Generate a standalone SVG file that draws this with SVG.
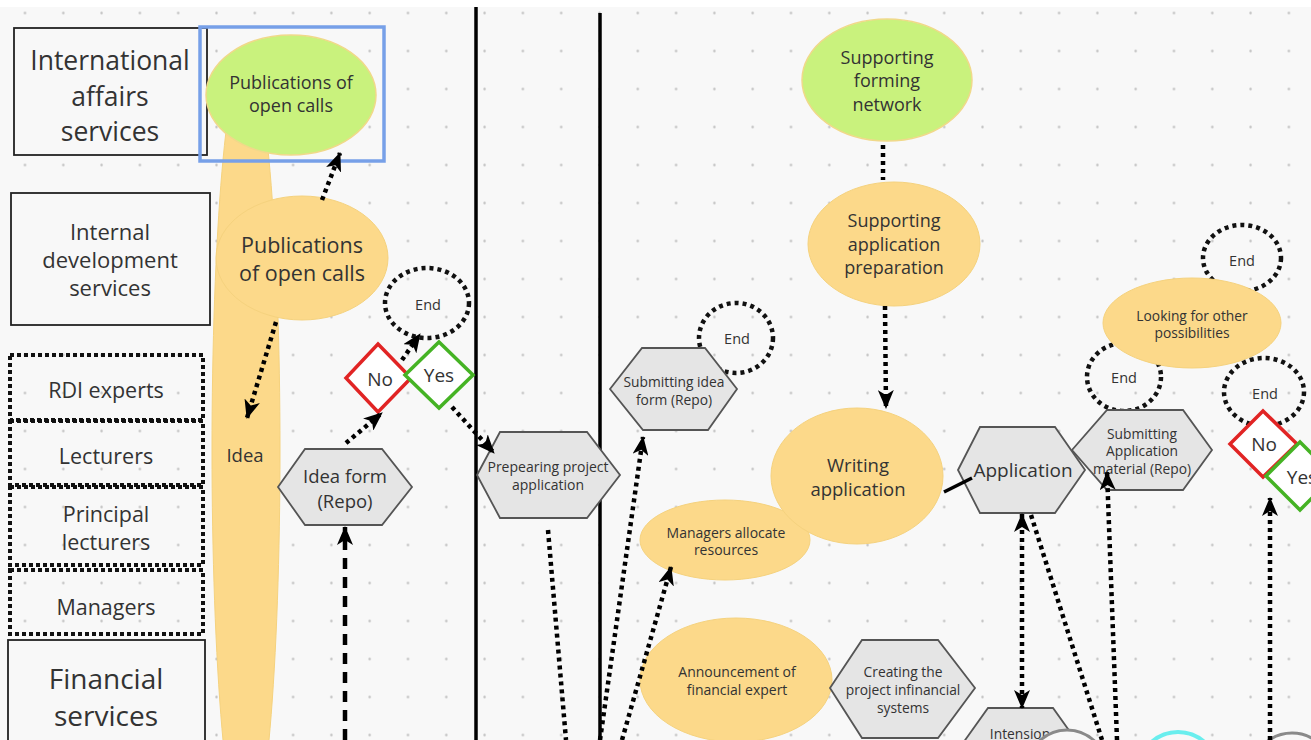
<svg xmlns="http://www.w3.org/2000/svg" width="1311" height="740" viewBox="0 0 1311 740">
<defs>
<pattern id="dots" x="23.5" y="11.5" width="38.3" height="38" patternUnits="userSpaceOnUse"><circle cx="1.5" cy="1.5" r="1.2" fill="#bdbdbd"/></pattern>
<marker id="ah" markerUnits="userSpaceOnUse" markerWidth="20" markerHeight="16" refX="18" refY="8" orient="auto-start-reverse"><path d="M0,0 L19,8 L0,16 L5,8 Z" fill="#000"/></marker>
</defs>
<style>
text{font-family:"Open Sans",Lato,"Liberation Sans",sans-serif;fill:#333;text-anchor:middle;dominant-baseline:central}
.s{font-size:13.8px}
.lane{fill:#f8f8f8;stroke:#222;stroke-width:1.8}
.dlane{fill:none;stroke:#111;stroke-width:4;stroke-dasharray:4 3}
.yel{fill:#fcd98a;stroke:#f5d27e;stroke-width:1}
.grn{fill:#c9f27d;stroke:#f0d98a;stroke-width:1.5}
.hex{fill:#e5e5e5;stroke:#555;stroke-width:1.8}
.end{fill:none;stroke:#111;stroke-width:4.5;stroke-dasharray:4 4}
.no{fill:#fff;stroke:#e12424;stroke-width:3.5}
.yes{fill:#fff;stroke:#45b324;stroke-width:3.5}
.dot{fill:none;stroke:#000;stroke-width:4.5;stroke-dasharray:4 4}
.dash{fill:none;stroke:#000;stroke-width:4.5;stroke-dasharray:11 8}
.arr{marker-end:url(#ah)}
.vline{stroke:#000;stroke-width:3.5}
</style>
<rect x="0" y="0" width="1311" height="740" fill="#ffffff"/>
<rect x="0" y="7" width="1311" height="733" fill="#f8f8f8"/>
<rect x="0" y="7" width="1311" height="733" fill="url(#dots)"/>

<g id="dividers">
<line class="vline" x1="476" y1="7" x2="476" y2="740"/>
<line class="vline" x1="600" y1="13" x2="600" y2="740"/>
</g>

<g id="idea">
<ellipse class="yel" cx="246" cy="450" rx="34" ry="394"/>
<text x="245" y="454" font-size="18.5">Idea</text>
</g>

<g id="lane-international">
<rect class="lane" x="14" y="28" width="193" height="127"/>
<text x="110" y="60" font-size="26.5" fill="#222">International</text>
<text x="110" y="96" font-size="26.5" fill="#222">affairs</text>
<text x="110" y="131" font-size="26.5" fill="#222">services</text>
</g>

<g id="pub-green">
<rect x="200" y="27" width="184" height="134" fill="none" stroke="#77a0e8" stroke-width="3.5"/>
<ellipse class="grn" cx="291" cy="95" rx="85" ry="60"/>
<text x="291" y="82" font-size="18">Publications of</text>
<text x="291" y="105" font-size="18">open calls</text>
</g>

<g id="lane-internal">
<rect class="lane" x="11" y="193" width="199" height="132"/>
<text x="110" y="231" font-size="22">Internal</text>
<text x="110" y="259" font-size="22">development</text>
<text x="110" y="287" font-size="22">services</text>
</g>

<g id="pub-yellow">
<ellipse class="yel" cx="302" cy="258" rx="86" ry="62"/>
<text x="302" y="244" font-size="21.5">Publications</text>
<text x="302" y="272" font-size="21.5">of open calls</text>
</g>

<g id="lane-rdi">
<rect class="dlane" x="10" y="355" width="193" height="65"/>
<text x="106" y="389" font-size="21.5">RDI experts</text>
</g>
<g id="lane-lecturers">
<rect class="dlane" x="10" y="421" width="193" height="64"/>
<text x="106" y="455" font-size="21.5">Lecturers</text>
</g>
<g id="lane-principal">
<rect class="dlane" x="10" y="487" width="193" height="78"/>
<text x="106" y="513" font-size="21.5">Principal</text>
<text x="106" y="541" font-size="21.5">lecturers</text>
</g>
<g id="lane-managers">
<rect class="dlane" x="10" y="570" width="193" height="64"/>
<text x="106" y="606" font-size="21.5">Managers</text>
</g>
<g id="lane-financial">
<rect class="lane" x="8" y="640" width="197" height="110"/>
<text x="106" y="678" font-size="28" fill="#222">Financial</text>
<text x="106" y="715" font-size="28" fill="#222">services</text>
</g>

<g id="end1">
<ellipse class="end" cx="427" cy="303" rx="42" ry="35"/>
<text x="428" y="304" font-size="14.5">End</text>
</g>
<g id="no1">
<path class="no" d="M378,344 L411,378 L378,412 L346,378 Z"/>
<text x="380" y="379" font-size="19">No</text>
</g>
<g id="yes1">
<path class="yes" d="M439,342 L473,375 L439,408 L405,375 Z"/>
<text x="439" y="375" font-size="19">Yes</text>
</g>

<g id="idea-form">
<path class="hex" d="M278,487 L305,449 L382,449 L412,487 L382,525 L305,525 Z"/>
<text x="345" y="475" font-size="18.5">Idea form</text>
<text x="345" y="500" font-size="18.5">(Repo)</text>
</g>

<g id="preparing">
<path class="hex" d="M477,475 L500,432 L587,432 L620,475 L587,518 L500,518 Z"/>
<text x="548" y="466" font-size="14">Prepearing project</text>
<text x="548" y="484" font-size="14">application</text>
</g>

<g id="end2">
<ellipse class="end" cx="736" cy="338" rx="37" ry="35"/>
<text x="737" y="338" font-size="14.5">End</text>
</g>
<g id="submit-idea">
<path class="hex" d="M610,389 L642,348 L705,348 L737,389 L708,430 L643,430 Z"/>
<text class="s" x="674" y="381">Submitting idea</text>
<text class="s" x="674" y="399">form (Repo)</text>
</g>

<g id="managers-allocate">
<ellipse class="yel" cx="725" cy="540" rx="85" ry="40"/>
<text x="726" y="532" font-size="14">Managers allocate</text>
<text x="726" y="549" font-size="14">resources</text>
</g>

<g id="announcement">
<ellipse class="yel" cx="736" cy="680" rx="96" ry="62"/>
<text x="737" y="671" font-size="14">Announcement of</text>
<text x="737" y="689" font-size="14">financial expert</text>
</g>

<g id="writing">
<ellipse class="yel" cx="857" cy="476" rx="86" ry="68"/>
<text x="858" y="464" font-size="18.5">Writing</text>
<text x="858" y="488" font-size="18.5">application</text>
</g>

<g id="supporting-network">
<ellipse class="grn" cx="887" cy="80" rx="85" ry="61"/>
<text x="887" y="57" font-size="18">Supporting</text>
<text x="887" y="80" font-size="18">forming</text>
<text x="887" y="104" font-size="18">network</text>
</g>

<g id="supporting-prep">
<ellipse class="yel" cx="894" cy="244" rx="86" ry="62"/>
<text x="894" y="220" font-size="18">Supporting</text>
<text x="894" y="244" font-size="18">application</text>
<text x="894" y="267" font-size="18">preparation</text>
</g>

<g id="end3">
<ellipse class="end" cx="1124" cy="377" rx="37" ry="34"/>
<text x="1124" y="377" font-size="14.5">End</text>
</g>
<g id="submit-app">
<path class="hex" d="M1072,450 L1107,410 L1183,410 L1212,450 L1183,490 L1107,490 Z"/>
<text class="s" x="1142" y="433">Submitting</text>
<text class="s" x="1142" y="450">Application</text>
<text class="s" x="1142" y="468">material (Repo)</text>
</g>

<g id="application">
<path class="hex" d="M958,470 L980,427 L1055,427 L1085,470 L1055,513 L980,513 Z"/>
<text x="1023" y="470" font-size="19">Application</text>
</g>

<g id="end4">
<ellipse class="end" cx="1242" cy="258" rx="39" ry="33"/>
<text x="1242" y="260" font-size="14.5">End</text>
</g>
<g id="looking">
<ellipse class="yel" cx="1192" cy="323" rx="89" ry="45"/>
<text class="s" x="1192" y="315">Looking for other</text>
<text class="s" x="1192" y="332">possibilities</text>
</g>

<g id="end5">
<ellipse class="end" cx="1264" cy="392" rx="40" ry="34"/>
<text x="1265" y="393" font-size="14.5">End</text>
</g>
<g id="no2">
<path class="no" d="M1263,411 L1297,444 L1263,477 L1230,444 Z"/>
<text x="1264" y="444" font-size="19">No</text>
</g>
<g id="yes2">
<path class="yes" d="M1300,442 L1334,476 L1300,510 L1266,476 Z"/>
<text x="1302" y="477" font-size="19">Yes</text>
</g>

<g id="creating">
<path class="hex" d="M830,688 L862,640 L938,640 L975,688 L938,738 L862,738 Z"/>
<text class="s" x="903" y="671">Creating the</text>
<text class="s" x="903" y="689">project infinancial</text>
<text class="s" x="903" y="707">systems</text>
</g>

<g id="intension">
<path class="hex" d="M958,750 L988,708 L1053,708 L1083,750 Z"/>
<text class="s" x="1020" y="733">Intension</text>
</g>

<g id="circle-gray1">
<circle cx="1067" cy="770" r="40" fill="#f8f8f8" stroke="#8a8a8a" stroke-width="3"/>
</g>
<g id="circle-cyan">
<circle cx="1178" cy="772" r="40" fill="#f8f8f8" stroke="#6aeeee" stroke-width="4"/>
</g>
<g id="circle-gray2">
<circle cx="1292" cy="773" r="40" fill="#f8f8f8" stroke="#8a8a8a" stroke-width="3"/>
</g>

<g id="connectors">
<path class="dot arr" d="M322,200 L340,153"/>
<path class="dot arr" d="M276,322 L247,418"/>
<path class="dot arr" d="M346,443 L382,413"/>
<path class="dot arr" d="M402,360 L420,334"/>
<path class="dot arr" d="M452,407 L494,453"/>
<path class="dash arr" d="M345,740 L345,527"/>
<path class="dot" d="M548,530 L566,740"/>
<path class="dot arr" d="M600,740 L643,437"/>
<path class="dot arr" d="M622,740 L671,567"/>
<path class="dot" d="M883,145 L883,180"/>
<path class="dot arr" d="M885,306 L886,408"/>
<path d="M944,492 L972,478" stroke="#000" stroke-width="3.5" fill="none"/>
<path class="dot arr" d="M1022,514 L1022,708" marker-start="url(#ah)"/>
<path class="dot" d="M1031,515 L1102,740"/>
<path class="dot arr" d="M1117,740 L1107,472"/>
<path class="dot arr" d="M1270,740 L1270,498"/>
</g>
</svg>
